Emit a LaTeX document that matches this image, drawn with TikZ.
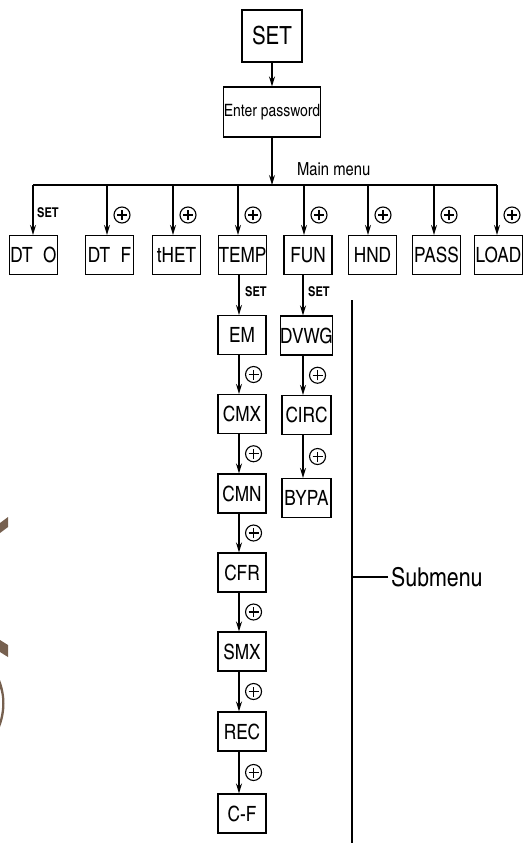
\documentclass[tikz,border=0pt]{standalone}
\usepackage{fontspec}
\setmainfont{texgyreheroscn}[Extension=.otf, UprightFont=*-regular, BoldFont=*-bold]
\usetikzlibrary{arrows.meta}

\definecolor{wmbrown}{HTML}{76604F}

\begin{document}
\begin{tikzpicture}[x=1pt, y=-1pt, >={Stealth[length=10pt, width=6pt]},
    menubox/.style={draw, line width=1.1pt, minimum width=48pt, minimum height=39pt,
        inner sep=0pt, font=\fontsize{21}{21}\selectfont},
    link/.style={line width=1.1pt},
    setlabel/.style={anchor=west, inner sep=0pt, font=\bfseries\fontsize{13.5}{13.5}\selectfont},
    plusmark/.style={circle, draw, solid, line width=1.1pt, minimum size=16pt, inner sep=0pt,
        path picture={
            \draw[-, line width=1.1pt] ([xshift=-5pt]path picture bounding box.center)
                -- ([xshift=5pt]path picture bounding box.center);
            \draw[-, line width=1.1pt] ([yshift=-5pt]path picture bounding box.center)
                -- ([yshift=5pt]path picture bounding box.center);
        }}]
    \useasboundingbox (0,0) rectangle (523,843);

    % watermark remnants on the left edge
    \fill[wmbrown] (0,523) -- (8,517) -- (8,527) -- (0,533) -- cycle;
    \fill[wmbrown] (0,640) -- (8,645) -- (8,657) -- (0,652) -- cycle;
    \fill[wmbrown] (0,680) .. controls (6,695) and (6,712) .. (0,727) -- (0,720)
        .. controls (3,708) and (3,697) .. (0,688) -- cycle;

    % entry
    \node[menubox, minimum width=60pt, minimum height=52pt, font=\fontsize{25}{25}\selectfont]
        (set) at (272,36) {SET};
    \node[menubox, minimum width=86pt, minimum height=50pt, font=\fontsize{17}{17}\selectfont]
        (pwd) at (272,112) {Enter password};
    \draw[link,->] (set) -- (pwd);

    % main menu bar
    \coordinate (barL) at (33,185);
    \coordinate (barR) at (497,185);
    \draw[link] (barL) -- (barR);
    \draw[link,->] (pwd) -- (pwd |- barL);
    \node[anchor=south west, inner sep=0pt, font=\fontsize{18}{18}\selectfont]
        (mainlbl) at (297,176) {Main menu};

    % main menu items
    \foreach \name/\txt/\cx/\bx in {dto/{DT\enspace O}/33.5/33, dtf/{DT\enspace F}/109.5/107,
            thet/tHET/176.5/173, temp/TEMP/242.5/238, fun/FUN/308/304,
            hnd/HND/372.5/368, pass/PASS/436.5/434, load/LOAD/498.5/497} {
        \node[menubox] (\name) at (\cx,255) {\txt};
        \coordinate (\name-in) at (\bx,185);
        \draw[link,->] (\name-in) -- (\name-in |- \name.north);
    }
    \node[setlabel] (dto-set) at (37,213) {SET};
    \foreach \name/\bx in {dtf/107, thet/173, temp/238, fun/304, hnd/368, pass/434, load/497}
        \node[plusmark] (\name-plus) at ({\bx+15},215) {};

    % TEMP submenu
    \coordinate (tempaxis) at (239,0);
    \foreach \name/\txt/\cy in {em/EM/335, cmx/CMX/414, cmn/CMN/493.5, cfr/CFR/572.5,
            smx/SMX/651.5, rec/REC/731.5, cf/C-F/813.5}
        \node[menubox] (\name) at (242,\cy) {\txt};
    \draw[link,->] (temp.south -| tempaxis) -- (em.north -| tempaxis);
    \node[setlabel] (temp-set) at (245,292) {SET};
    \foreach \a/\b in {em/cmx, cmx/cmn, cmn/cfr, cfr/smx, smx/rec, rec/cf} {
        \draw[link,->] (\a.south -| tempaxis) -- (\b.north -| tempaxis);
        \path (\a.south -| tempaxis) -- node[plusmark, right=6pt] (\b-plus) {} (\b.north -| tempaxis);
    }

    % FUN submenu
    \coordinate (funaxis) at (303,0);
    \foreach \name/\txt/\cy in {dvwg/DVWG/335.5, circ/CIRC/415, bypa/BYPA/498}
        \node[menubox, minimum width=49pt] (\name) at (306.5,\cy) {\txt};
    \draw[link,->] (fun.south -| funaxis) -- (dvwg.north -| funaxis);
    \node[setlabel] (fun-set) at (308,292) {SET};
    \foreach \a/\b in {dvwg/circ, circ/bypa} {
        \draw[link,->] (\a.south -| funaxis) -- (\b.north -| funaxis);
        \path (\a.south -| funaxis) -- node[plusmark, right=6pt] (\b-plus) {} (\b.north -| funaxis);
    }

    % submenu bracket
    \coordinate (subtop) at (352,300);
    \coordinate (subbot) at (352,843);
    \draw[link, line width=1.4pt] (subtop) -- (subbot);
    \node[anchor=west, inner sep=0pt, font=\fontsize{26}{26}\selectfont]
        (sublbl) at (391,577) {Submenu};
    \draw[link] ([xshift=-3pt]sublbl.west) -- (sublbl.west -| subtop);
\end{tikzpicture}
\end{document}
